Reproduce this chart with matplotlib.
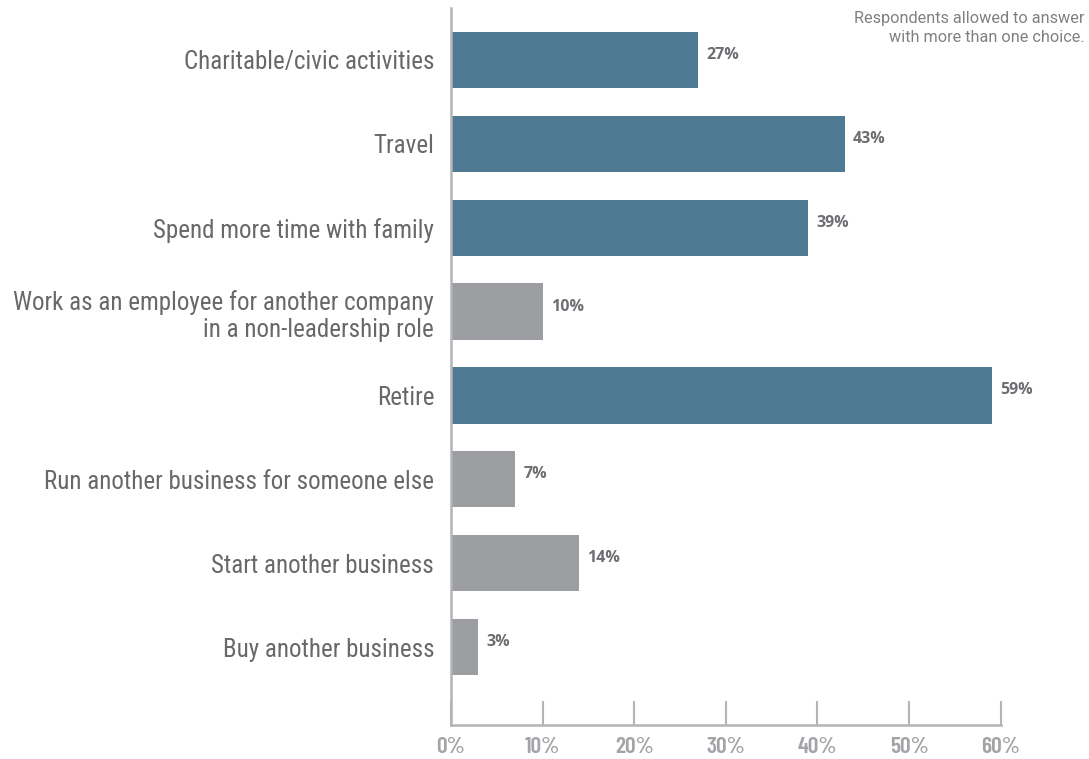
import matplotlib.pyplot as plt
from matplotlib import font_manager

categories = ["Charitable/civic activities", "Travel", "Spend more time with family",
              "Work as an employee for another company\nin a non-leadership role",
              "Retire", "Run another business for someone else",
              "Start another business", "Buy another business"]
values = [27, 43, 39, 10, 59, 7, 14, 3]
highlight = [True, True, True, False, True, False, False, False]
ticks = [0, 10, 20, 30, 40, 50, 60]
tick_labels = ["0%", "10%", "20%", "30%", "40%", "50%", "60%"]

names = {f.name for f in font_manager.fontManager.ttflist}


def pick(*cands):
    for c in cands:
        if c in names:
            return c
    return "DejaVu Sans"


label_font = pick("Roboto Condensed", "Fira Sans Condensed", "Archivo Narrow", "Asap Condensed")
tick_font = pick("Barlow Condensed", "Oswald", "Roboto Condensed")
value_font = pick("Open Sans", "Noto Sans")
note_font = pick("Roboto", "Noto Sans")

blue = "#4f7a94"
gray = "#9d9ea1"
text_gray = "#67686a"
axis_gray = "#b3b4b6"

fig = plt.figure(figsize=(10.89, 7.59), dpi=100)
ax = fig.add_axes([0.414, 0.0448, 0.505, 0.9447])

pos = list(range(len(categories)))
colors = [blue if h else gray for h in highlight]
ax.barh(pos, values, height=0.67, color=colors)

for p, v in zip(pos, values):
    ax.text(v + 0.9, p - 0.06, f"{v}%", va="center", ha="left", fontsize=11.5,
            fontweight="bold", color="#6d6e71", family=value_font)

ax.set_ylim(7.93, -0.62)
ax.set_xlim(0, 60)
ax.set_yticks(pos)
ax.set_yticklabels(categories, fontsize=18, color=text_gray, family=label_font,
                   linespacing=1.2)
ax.tick_params(axis="y", length=0, pad=12)
for lbl in ax.get_yticklabels():
    lbl.set_multialignment("right")

ax.set_xticks(ticks)
ax.set_xticklabels(tick_labels, fontsize=17, fontweight="semibold", color="#a3a4a7", family=tick_font)
ax.tick_params(axis="x", direction="in", length=17, width=1.5, color=axis_gray, pad=9)

for s in ["top", "right"]:
    ax.spines[s].set_visible(False)
for s in ["left", "bottom"]:
    ax.spines[s].set_color(axis_gray)
    ax.spines[s].set_linewidth(1.8)

fig.text(0.996, 0.985, "Respondents allowed to answer\nwith more than one choice.",
         ha="right", va="top", fontsize=11.7, color="#7f8083", family=note_font,
         multialignment="right", linespacing=1.3)

fig.savefig("out.png", dpi=100)
